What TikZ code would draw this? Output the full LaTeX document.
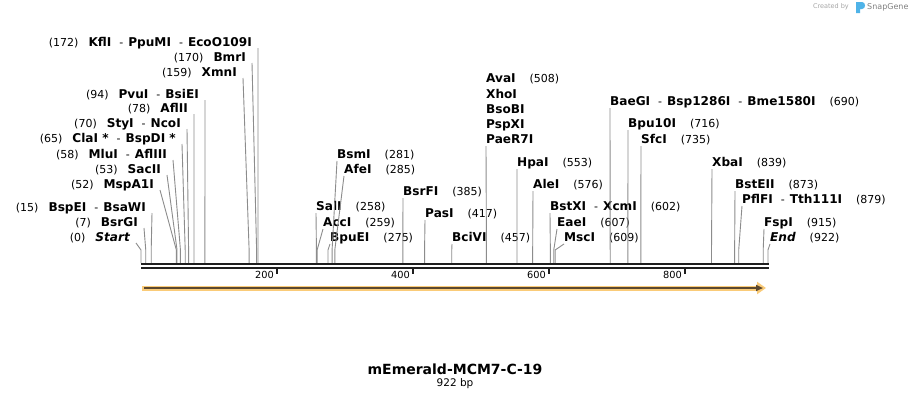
\documentclass[tikz,border=0pt]{standalone}
\usepackage{fontspec}
\setmainfont{DejaVu Sans}
\usetikzlibrary{calc,arrows.meta}
\definecolor{siteg}{HTML}{8C8C8C}
\definecolor{barc}{HTML}{1E1E1E}
\definecolor{orangef}{HTML}{FACB78}
\definecolor{orangel}{HTML}{5B4830}
\definecolor{sgblue}{HTML}{4FB3E8}
\newcommand\nmf{\fontsize{12.1}{13}\selectfont\bfseries}
\newcommand\numf{\fontsize{11}{12}\selectfont\mdseries}
\newcommand\Nm[1]{{\nmf #1}}
\newcommand\Nu[1]{{\numf(#1)}}
\newcommand\Sep{{\numf\hspace{8pt}-\hspace{5pt}}}
\newcommand\Lgap{\hspace{10pt}}
\newcommand\Rgap{\hspace{14pt}}
\tikzset{
  sitelabel/.style={inner sep=0pt,text height=8.6pt,text depth=0pt},
  siteline/.style={draw=siteg,line width=0.9pt},
  ticklabel/.style={inner sep=0pt,font=\fontsize{9.8}{11}\selectfont,text height=7pt,text depth=0pt},
}
% left-side site: name, text, line-start x, label y, bp
\newcommand\Lsite[5]{%
  \node[sitelabel,anchor=east] (#1) at ({#3-6},#4) {#2};
  \coordinate (#1s) at ($(#1.east)+(6,6)$);
  \coordinate (#1b) at ({141+0.68*#5},250);
  \coordinate (#1e) at ({141+0.68*#5},263);
  \draw[siteline] (#1s) -- (#1b) -- (#1e);}
% right-side site: name, text, label x, label y, bp
\newcommand\Rsite[5]{%
  \node[sitelabel,anchor=west] (#1) at (#3,#4) {#2};
  \coordinate (#1s) at ($(#1.west)+(0,7)$);
  \coordinate (#1b) at ({141+0.68*#5},250);
  \coordinate (#1e) at ({141+0.68*#5},263);
  \draw[siteline] (#1s) -- (#1b) -- (#1e);}
\newcommand\Tick[1]{%
  \coordinate (t#1) at ({141+0.68*#1},267);
  \draw[barc,line width=1.6pt] (t#1) -- ++(0,7);
  \node[ticklabel,anchor=east] (tl#1) at ($(t#1)+(-3,8)$) {#1};}
\begin{document}
\begin{tikzpicture}[x=1pt,y=-1pt]
\useasboundingbox (0,0) rectangle (911,400);
\fill[white] (0,0) rectangle (911,400);

% left cluster
\Lsite{KflI}{\Nu{172}\Lgap\Nm{KflI}\Sep\Nm{PpuMI}\Sep\Nm{EcoO109I}}{258}{42}{172}
\Lsite{BmrI}{\Nu{170}\Lgap\Nm{BmrI}}{252}{57}{170}
\Lsite{XmnI}{\Nu{159}\Lgap\Nm{XmnI}}{243}{72}{159}
\Lsite{PvuI}{\Nu{94}\Lgap\Nm{PvuI}\Sep\Nm{BsiEI}}{205}{94}{94}
\Lsite{AflII}{\Nu{78}\Lgap\Nm{AflII}}{194}{108}{78}
\Lsite{StyI}{\Nu{70}\Lgap\Nm{StyI}\Sep\Nm{NcoI}}{187}{123}{70}
\Lsite{ClaI}{\Nu{65}\Lgap\Nm{ClaI *}\Sep\Nm{BspDI *}}{182}{138}{65}
\Lsite{MluI}{\Nu{58}\Lgap\Nm{MluI}\Sep\Nm{AflIII}}{173}{154}{58}
\Lsite{SacII}{\Nu{53}\Lgap\Nm{SacII}}{167}{169}{53}
\Lsite{MspAI}{\Nu{52}\Lgap\Nm{MspA1I}}{160}{184}{52}
\Lsite{BspEI}{\Nu{15}\Lgap\Nm{BspEI}\Sep\Nm{BsaWI}}{152}{207}{15}
\Lsite{BsrGI}{\Nu{7}\Lgap\Nm{BsrGI}}{144}{222}{7}
\Lsite{Start}{\Nu{0}\Lgap\Nm{\itshape Start}}{136}{237}{0}

% right clusters
\Rsite{SalI}{\Nm{SalI}\Rgap\Nu{258}}{316}{206}{258}
\Rsite{AccI}{\Nm{AccI}\Rgap\Nu{259}}{323}{222}{259}
\Rsite{BpuEI}{\Nm{BpuEI}\Rgap\Nu{275}}{330}{237}{275}
\Rsite{BsmI}{\Nm{BsmI}\Rgap\Nu{281}}{337}{154}{281}
\Rsite{AfeI}{\Nm{AfeI}\Rgap\Nu{285}}{344}{169}{285}
\Rsite{BsrFI}{\Nm{BsrFI}\Rgap\Nu{385}}{403}{191}{385}
\Rsite{PasI}{\Nm{PasI}\Rgap\Nu{417}}{425}{213}{417}
\Rsite{BciVI}{\Nm{BciVI}\Rgap\Nu{457}}{452}{237}{457}
\node[sitelabel,anchor=west] (AvaI) at (486,78) {\Nm{AvaI}\Rgap\Nu{508}};
\node[sitelabel,anchor=west] (XhoI) at (486,94) {\Nm{XhoI}};
\node[sitelabel,anchor=west] (BsoBI) at (486,109) {\Nm{BsoBI}};
\node[sitelabel,anchor=west] (PspXI) at (486,124) {\Nm{PspXI}};
\Rsite{PaeRI}{\Nm{PaeR7I}}{486}{139}{508}
\Rsite{HpaI}{\Nm{HpaI}\Rgap\Nu{553}}{517}{162}{553}
\Rsite{AleI}{\Nm{AleI}\Rgap\Nu{576}}{533}{184}{576}
\Rsite{BstXI}{\Nm{BstXI}\Sep\Nm{XcmI}\Rgap\Nu{602}}{550}{206}{602}
\Rsite{EaeI}{\Nm{EaeI}\Rgap\Nu{607}}{557}{222}{607}
\Rsite{MscI}{\Nm{MscI}\Rgap\Nu{609}}{564}{237}{609}
\Rsite{BaeGI}{\Nm{BaeGI}\Sep\Nm{Bsp1286I}\Sep\Nm{Bme1580I}\Rgap\Nu{690}}{610}{101}{690}
\Rsite{BpuXI}{\Nm{Bpu10I}\Rgap\Nu{716}}{628}{123}{716}
\Rsite{SfcI}{\Nm{SfcI}\Rgap\Nu{735}}{641}{139}{735}
\Rsite{XbaI}{\Nm{XbaI}\Rgap\Nu{839}}{712}{162}{839}
\Rsite{BstEII}{\Nm{BstEII}\Rgap\Nu{873}}{735}{184}{873}
\Rsite{PflFI}{\Nm{PflFI}\Sep\Nm{Tth111I}\Rgap\Nu{879}}{742}{199}{879}
\Rsite{FspI}{\Nm{FspI}\Rgap\Nu{915}}{764}{222}{915}
\Rsite{End}{\Nm{\itshape End}\Rgap\Nu{922}}{770}{237}{922}

% sequence bar
\coordinate (b0) at (141,264);
\coordinate (b1) at (769,264);
\draw[barc,line width=2.6pt] (b0) -- (b1);
\draw[barc,line width=1.8pt] ($(b0)+(0,3.8)$) -- ($(b1)+(0,3.8)$);
\Tick{200}\Tick{400}\Tick{600}\Tick{800}

% feature arrow
\coordinate (fs) at (142,288);
\coordinate (fe) at (766,288);
\coordinate (fs2) at (144,288);
\coordinate (fe2) at (763,288);
\draw[orangef,line width=5pt,-{Triangle[length=9pt,width=12pt]}] (fs) -- (fe);
\draw[orangel,line width=1.8pt,-{Triangle[length=7pt,width=6pt]}] (fs2) -- (fe2);

% title
\node[inner sep=0pt,font=\fontsize{14}{16}\selectfont\bfseries] (title) at (455,369) {mEmerald-MCM7-C-19};
\node[inner sep=0pt,font=\fontsize{10.5}{12}\selectfont] (bp) at (455,384) {922 bp};

% credit
\node[inner sep=0pt,anchor=east,text=black!35,font=\fontsize{6.5}{7}\selectfont] (cr) at (849,7) {Created by};
\fill[sgblue] (856,2) -- (862,2) .. controls (866,2) and (866,9) .. (862,9) -- (860,9) -- (860,13) -- (856,13) -- cycle;
\node[inner sep=0pt,anchor=west,text=black!50,font=\fontsize{8}{9}\selectfont] (sg) at (867,7) {SnapGene};
\end{tikzpicture}
\end{document}
